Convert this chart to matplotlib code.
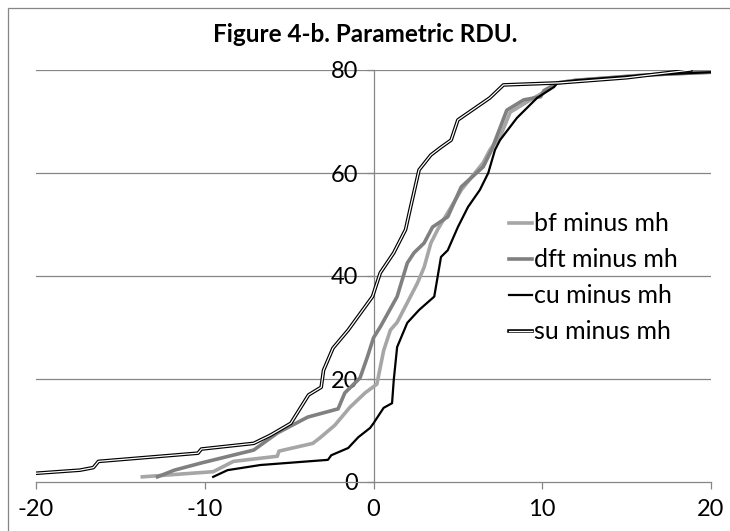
import matplotlib
matplotlib.use("Agg")
import matplotlib.pyplot as plt
import matplotlib.lines as mlines
from matplotlib.patches import Rectangle
from matplotlib.legend_handler import HandlerLine2D

# Data (x = difference, y = cumulative count)
bf_x = [-13.7, -9.5, -8.3, -5.7, -5.6, -3.6, -3.2, -2.3, -1.4, -0.5, 0.2, 0.6, 1.0, 1.4, 2.6, 3.0,
        3.4, 3.8, 4.6, 5.2, 6.5, 6.9, 7.5, 8.1, 9.3, 10.1, 10.9, 12, 16, 23]
bf_y = [1, 2, 4, 5, 6, 7.5, 8.5, 11, 14.5, 17.3, 19, 25.5, 29.5, 31, 38.6, 41.7,
        46.4, 49, 53.4, 56.7, 62, 64.5, 67, 71.8, 74.2, 75.7, 77.5, 78, 79, 80]

dft_x = [-12.8, -11.8, -10.2, -7.1, -5.7, -3.9, -2.1, -1.7, -0.8, -0.36, 0.0, 0.4, 1.4, 2.0, 2.4,
         3.0, 3.5, 4.4, 5.2, 6.5, 7.0, 7.9, 8.9, 9.9, 10.1, 10.9, 12, 16, 23]
dft_y = [1, 2.3, 3.7, 6.2, 9.5, 12.6, 14.2, 17.3, 20.2, 24.3, 28, 30.1, 36, 42.5, 44.5,
         46.4, 49.5, 51.5, 57.3, 61.2, 64.5, 72.2, 74.2, 74.8, 76, 77.5, 78, 79, 80]

cu_x = [-9.5, -8.65, -6.7, -2.7, -2.5, -1.5, -0.9, -0.2, 0.0, 0.6, 1.1, 1.2, 1.4, 2.0, 2.7, 3.6,
        4.0, 4.4, 5.0, 5.6, 6.3, 6.8, 7.2, 7.5, 8.5, 9.7, 10.7, 10.9, 12, 16, 23]
cu_y = [1, 2.3, 3.3, 4.3, 5.2, 6.6, 8.7, 10.5, 11.4, 14.4, 15.3, 19.8, 26.2, 30.9, 33.4, 36,
        43.7, 45, 49.5, 53.4, 56.7, 60, 64.5, 66.4, 70.7, 74.6, 76.7, 77.5, 78, 79, 80]

su_x = [-23, -17.4, -16.6, -16.3, -10.4, -10.2, -7.1, -6.1, -4.9, -3.85, -3.1, -2.96, -2.4, -1.5,
        -0.77, -0.06, 0.4, 1.2, 1.9, 2.2, 2.7, 3.4, 4.0, 4.6, 5.0, 6.9, 7.7, 11, 15, 18.8]
su_y = [1, 2.3, 2.8, 4, 5.6, 6.4, 7.5, 9.1, 11.4, 16.9, 18.4, 21.7, 26, 29.5,
        32.8, 36, 40.6, 44.5, 49, 53.4, 60.6, 63.5, 65, 66.4, 70.3, 74.6, 77.1, 77.5, 78.5, 80]

labels = ["bf minus mh", "dft minus mh", "cu minus mh", "su minus mh"]
x_ticks = [-20, -10, 0, 10, 20]
y_ticks = [0, 20, 40, 60, 80]
title = "Figure 4-b. Parametric RDU."

plt.rcParams['font.family'] = ['Lato', 'DejaVu Sans']
plt.rcParams['axes.unicode_minus'] = False

fig = plt.figure(figsize=(7.30, 5.31), dpi=100)
ax = fig.add_axes([36/730, 1-482/531, (711-36)/730, (482-70)/531])

grid_c = "#868686"
ax.set_xlim(-20, 20)
ax.set_ylim(0, 80)
for y in y_ticks[1:]:
    ax.axhline(y, color=grid_c, lw=0.9, zorder=1)

l1, = ax.plot(bf_x, bf_y, color="#A6A6A6", lw=2.6, zorder=3, solid_joinstyle='round')
l2, = ax.plot(dft_x, dft_y, color="#808080", lw=2.6, zorder=4, solid_joinstyle='round')
l3, = ax.plot(cu_x, cu_y, color="black", lw=1.6, zorder=5, solid_joinstyle='round')
l4, = ax.plot(su_x, su_y, color="black", lw=2.6, zorder=6, solid_joinstyle='round')
ax.plot(su_x, su_y, color="white", lw=0.9, zorder=7, solid_joinstyle='round')

for s in ['top', 'right']:
    ax.spines[s].set_visible(False)
ax.spines['left'].set_position(('data', 0))
ax.spines['left'].set_color(grid_c)
ax.spines['bottom'].set_color(grid_c)
ax.spines['left'].set_linewidth(0.9)
ax.spines['bottom'].set_linewidth(0.9)
ax.spines['left'].set_zorder(2)
ax.set_xticks(x_ticks)
ax.set_yticks(y_ticks)
ax.tick_params(axis='both', colors=grid_c, labelcolor='black', labelsize=17, length=5, width=0.9)
ax.tick_params(axis='x', pad=7)
ax.tick_params(axis='y', pad=6)

fig.text(0.5, 1-34/531, title, ha='center', va='center', fontsize=17.5, fontweight='bold')

h1 = mlines.Line2D([], [], color="#A6A6A6", lw=2.6)
h2 = mlines.Line2D([], [], color="#808080", lw=2.6)
h3 = mlines.Line2D([], [], color="black", lw=1.6)


class DoubleHandler(HandlerLine2D):
    def create_artists(self, legend, orig_handle, xdescent, ydescent, width, height, fontsize, trans):
        a = super().create_artists(legend, orig_handle, xdescent, ydescent, width, height, fontsize, trans)
        b = mlines.Line2D([-xdescent, width - xdescent], [(height - ydescent) / 2] * 2,
                          color='white', lw=0.9, transform=trans)
        return a + [b]


leg = ax.legend([h1, h2, h3, l4], labels, loc='upper left',
                bbox_to_anchor=(496/730, 1-200/531), bbox_transform=fig.transFigure,
                frameon=False, fontsize=18, handlelength=0.95, handletextpad=0.05,
                labelspacing=0.52, borderpad=0, handler_map={l4: DoubleHandler()})

fig.patches.append(Rectangle((8/730, -0.1), 1.2, 1.1 - 8/531, transform=fig.transFigure,
                             fill=False, edgecolor="#868686", lw=0.9))

fig.savefig("out.png", dpi=100)
